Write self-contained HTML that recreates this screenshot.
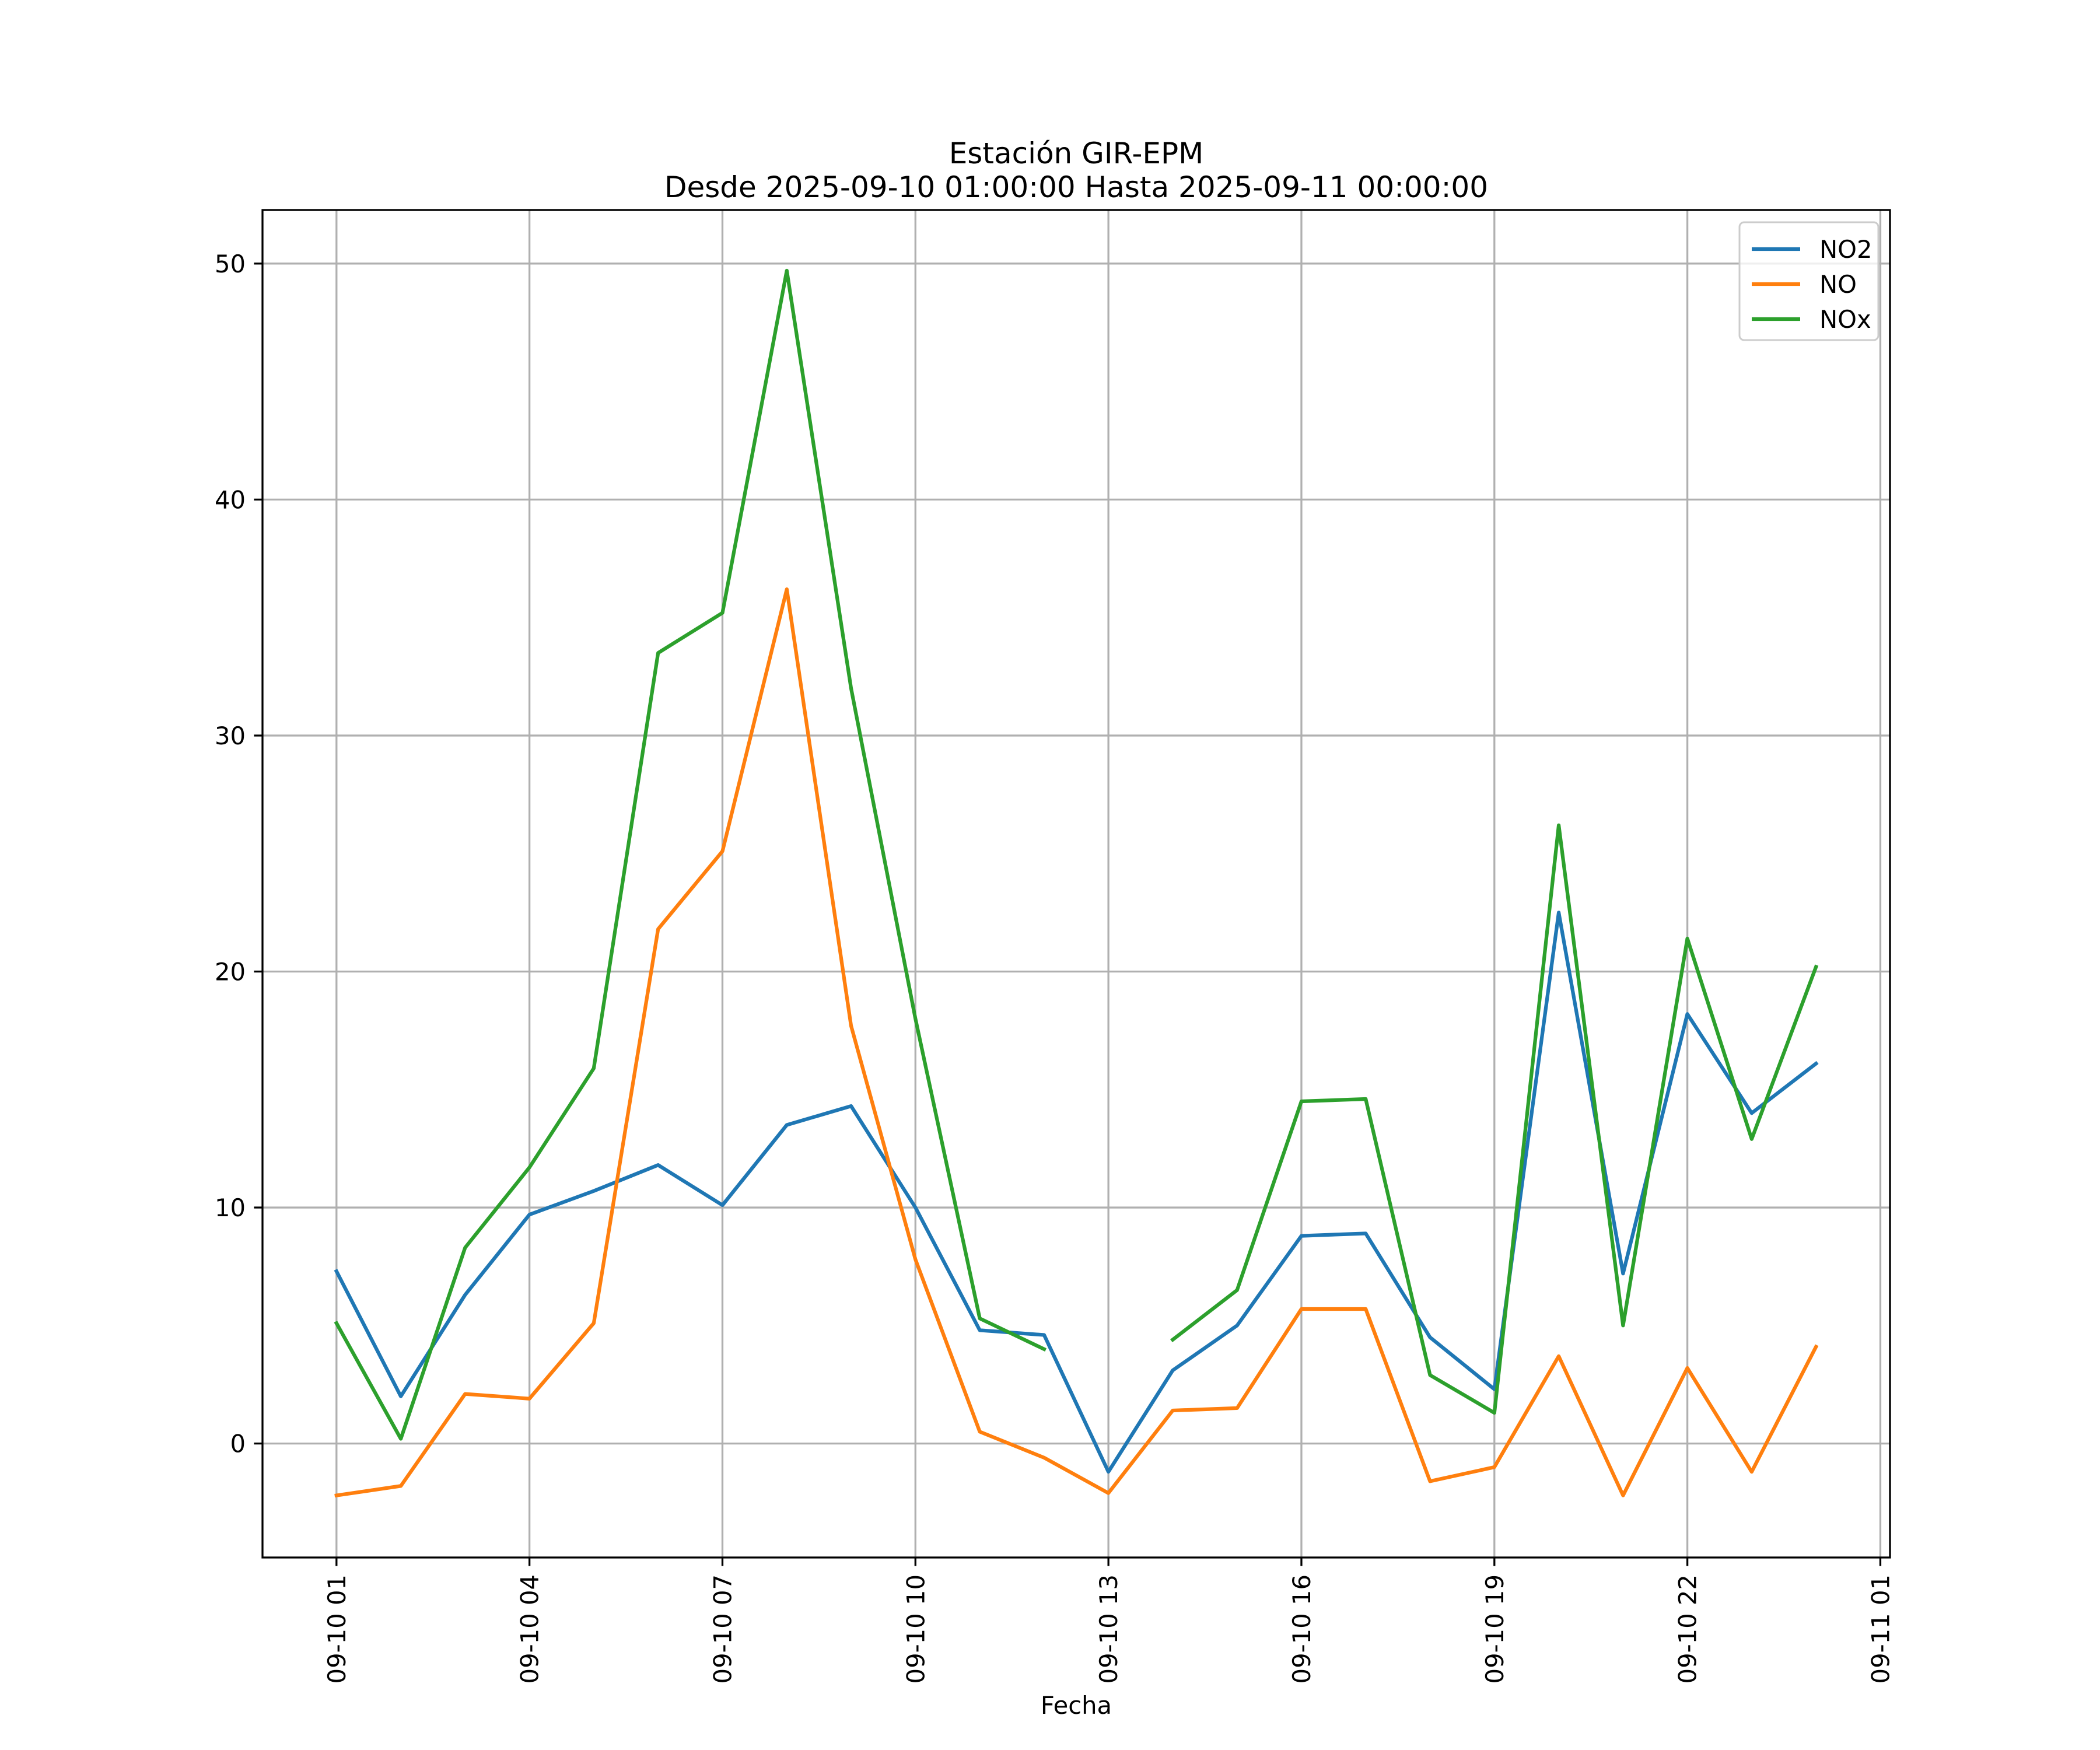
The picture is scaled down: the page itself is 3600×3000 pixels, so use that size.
<!DOCTYPE html>
<html><head><meta charset="utf-8"><style>
html,body{margin:0;padding:0;background:#fff}
svg{display:block}
text{font-family:"DejaVu Sans","Liberation Sans",sans-serif;fill:#000}
</style></head><body>
<svg id="chart" width="3600" height="3000" viewBox="0 0 3600 3000" xmlns="http://www.w3.org/2000/svg">
<rect width="3600" height="3000" fill="#fff"/>
<g id="grid"></g>
<g id="series"></g>
<rect x="450" y="360" width="2790" height="2310" fill="none" stroke="#000" stroke-width="3.3"/>
<g id="axes"></g>
<text x="1845" y="280" font-size="50" text-anchor="middle">Estación GIR-EPM</text>
<text x="1845" y="338" font-size="50" text-anchor="middle">Desde 2025-09-10 01:00:00 Hasta 2025-09-11 00:00:00</text>
<text x="1845" y="2938" font-size="41.7" text-anchor="middle">Fecha</text>
<g>
<rect x="2982" y="381" width="238" height="202" rx="8" fill="#fff" fill-opacity="0.8" stroke="#ccc" stroke-width="3"/>
<g id="legend-items"></g>
</g>
</svg>
<script>
const hours = [1,2,3,4,5,6,7,8,9,10,11,12,13,14,15,16,17,18,19,20,21,22,23,24];
const no2 = [7.3,2.0,6.3,9.7,10.7,11.8,10.1,13.5,14.3,10.0,4.8,4.6,-1.2,3.1,5.0,8.8,8.9,4.5,2.3,22.5,7.2,18.2,14.0,16.1];
const no = [-2.2,-1.8,2.1,1.9,5.1,21.8,25.1,36.2,17.7,7.8,0.5,-0.6,-2.1,1.4,1.5,5.7,5.7,-1.6,-1.0,3.7,-2.2,3.2,-1.2,4.1];
const nox = [5.1,0.2,8.3,11.7,15.9,33.5,35.2,49.7,32.0,18.0,5.3,4.0,null,4.4,6.5,14.5,14.6,2.9,1.3,26.2,5.0,21.4,12.9,20.2];
const seriesNames = ["NO2","NO","NOx"];
const seriesColors = ["#1f77b4","#ff7f0e","#2ca02c"];
const yTicks = [0,10,20,30,40,50];
const xTickHours = [1,4,7,10,13,16,19,22,25];
const xTickLabels = ["09-10 01","09-10 04","09-10 07","09-10 10","09-10 13","09-10 16","09-10 19","09-10 22","09-11 01"];

const L=450,R=3240,T=360,B=2670;
const xmin=-0.15,xmax=25.15,ymin=-4.83,ymax=52.27;
const xs=h=>L+(h-xmin)/(xmax-xmin)*(R-L);
const ys=v=>B-(v-ymin)/(ymax-ymin)*(B-T);
const NS="http://www.w3.org/2000/svg";
function mk(tag,attrs,parent){const e=document.createElementNS(NS,tag);for(const k in attrs)e.setAttribute(k,attrs[k]);parent.appendChild(e);return e;}
const grid=document.getElementById('grid'),axes=document.getElementById('axes'),ser=document.getElementById('series');

yTicks.forEach(v=>{
  const y=ys(v);
  const g=mk('line',{x1:L,x2:R,y1:y,y2:y,stroke:'#b0b0b0','stroke-width':3.3},grid);
  
  
  const t=mk('line',{x1:L-14.6,x2:L,y1:y,y2:y,stroke:'#000','stroke-width':3.3},axes);
  
  
  const lb=mk('text',{x:L-29,y:y+15,'font-size':41.7,'text-anchor':'end'},axes);
  lb.textContent=v;
  
  
});
xTickHours.forEach((h,i)=>{
  const x=xs(h);
  const g=mk('line',{x1:x,x2:x,y1:T,y2:B,stroke:'#b0b0b0','stroke-width':3.3},grid);
  
  
  const t=mk('line',{x1:x,x2:x,y1:B,y2:B+14.6,stroke:'#000','stroke-width':3.3},axes);
  
  
  const lb=mk('text',{x:0,y:0,'font-size':41.7,'text-anchor':'end',transform:`translate(${x+15},${B+29}) rotate(-90)`},axes);
  lb.textContent=xTickLabels[i];
  
  
});
[no2,no,nox].forEach((arr,si)=>{
  let d='',pen=false;
  arr.forEach((v,i)=>{
    if(v===null){pen=false;return;}
    d+=(pen?'L':'M')+xs(hours[i]).toFixed(1)+','+ys(v).toFixed(1)+' ';pen=true;
  });
  const p=mk('path',{d:d,fill:'none',stroke:seriesColors[si],'stroke-width':6.25,'stroke-linejoin':'round','stroke-linecap':'square'},ser);
  
  
});
const li=document.getElementById('legend-items');
seriesNames.forEach((n,i)=>{
  const y=427+i*60;
  const l=mk('line',{x1:3003,x2:3086,y1:y,y2:y,stroke:seriesColors[i],'stroke-width':6.25},li);
  
  
  const t=mk('text',{x:3119,y:y+15,'font-size':41.7},li);
  t.textContent=n;
  
  
});
</script>
</body></html>
